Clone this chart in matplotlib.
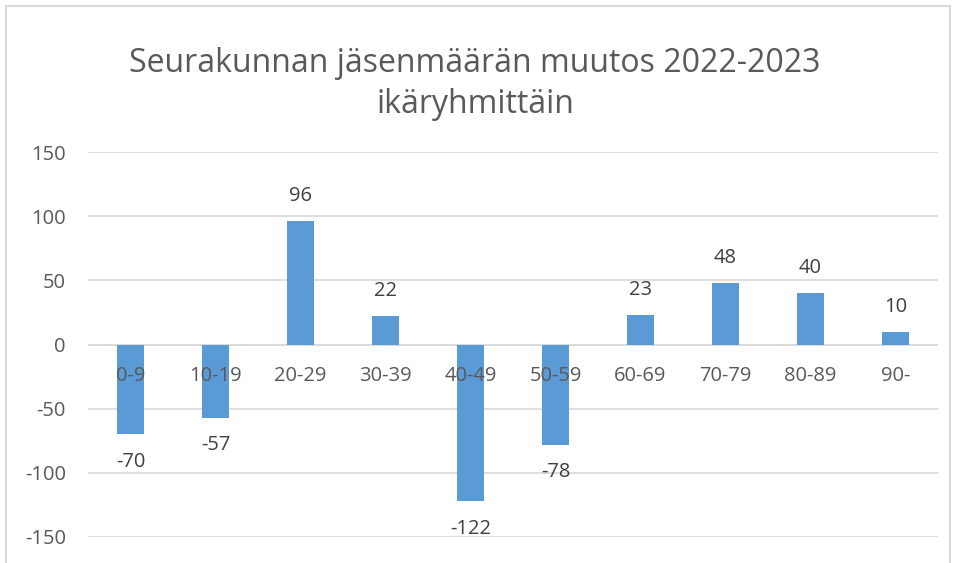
import matplotlib
matplotlib.use("Agg")
import matplotlib.pyplot as plt
from matplotlib.patches import Rectangle

categories = ["0-9", "10-19", "20-29", "30-39", "40-49", "50-59", "60-69", "70-79", "80-89", "90-"]
values = [-70, -57, 96, 22, -122, -78, 23, 48, 40, 10]
yticks = [-150, -100, -50, 0, 50, 100, 150]
title = "Seurakunnan jäsenmäärän muutos 2022-2023\nikäryhmittäin"

plt.rcParams['font.family'] = ['Open Sans', 'DejaVu Sans']

W, H = 954, 563
fig = plt.figure(figsize=(W / 100, H / 100), dpi=100)
fig.patch.set_facecolor("white")

# chart border
fig.patches.append(Rectangle((6 / W, -0.1), (950 - 6) / W, (H - 6) / H + 0.1,
                             transform=fig.transFigure, fill=False,
                             edgecolor="#d9d9d9", linewidth=1.5))

ax = fig.add_axes([88 / W, (H - 537) / H, (938 - 88) / W, (537 - 152) / H])
x = list(range(len(categories)))
ax.bar(x, values, width=0.31, color="#5b9bd5", zorder=2)
ax.set_xlim(-0.5, len(categories) - 0.5)
ax.set_ylim(-150, 150)
ax.set_yticks(yticks)
ax.set_yticklabels([str(t) for t in yticks])
ax.yaxis.grid(True, color="#d9d9d9", linewidth=1.2, zorder=0)
ax.set_axisbelow(True)
ax.set_xticks([])
for s in ax.spines.values():
    s.set_visible(False)
ax.tick_params(axis="y", length=0, pad=16, labelsize=14.5, labelcolor="#595959")
ax.axhline(0, color="#d9d9d9", linewidth=1.2, zorder=1)

for xi, cat in zip(x, categories):
    ax.annotate(cat, (xi, 0), xytext=(0, -22.5), textcoords="offset points",
                ha="center", va="center", fontsize=14.5, color="#595959", zorder=5,
                annotation_clip=False)

for xi, v in zip(x, values):
    off = 18 if v >= 0 else -20
    ax.annotate(str(v), (xi, v), xytext=(0, off), textcoords="offset points",
                ha="center", va="center", fontsize=14.5, color="#404040", zorder=5,
                annotation_clip=False)

fig.text(475 / W, 1 - 84 / H, title, ha="center", va="center", fontsize=23,
         color="#595959", linespacing=1.3)

fig.savefig("out.png", dpi=100)
